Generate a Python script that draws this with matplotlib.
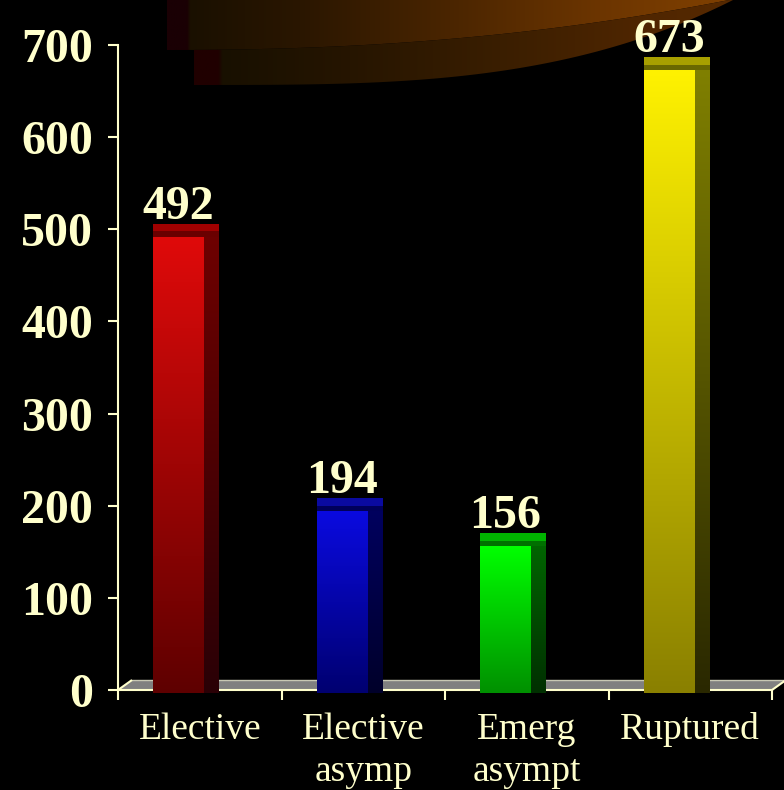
import numpy as np
import matplotlib
matplotlib.use("Agg")
import matplotlib.pyplot as plt
from matplotlib.patches import Polygon, Rectangle
from matplotlib.colors import to_rgb

# ---- data -------------------------------------------------------------
categories = ["Elective", "Elective\nasymp", "Emerg\nasympt", "Ruptured"]
values = [492, 194, 156, 673]
yticks = [0, 100, 200, 300, 400, 500, 600, 700]

# ---- bar colours (front face gradient, side face gradient, top cap) ----
front_top = ["#e00a0a", "#0a0ae0", "#00ff00", "#fff200"]
front_bottom = ["#5e0000", "#000070", "#009000", "#8a8000"]
side_top = ["#6e0000", "#00005e", "#006400", "#808000"]
side_bottom = ["#2a0006", "#00002a", "#003000", "#2a2800"]
cap_light = ["#a00000", "#0a0aa0", "#00b400", "#a8a000"]
cap_dark = ["#6a0000", "#00005a", "#007000", "#6a6800"]

CREAM = "#ffffcc"
SERIF = ["Liberation Serif", "DejaVu Serif"]

W, H = 784, 790
fig = plt.figure(figsize=(W / 100, H / 100), dpi=100, facecolor="black")

# ---- decorative swoosh in the slide background -------------------------
bg = fig.add_axes([0, 0, 1, 1], zorder=0)
bg.set_facecolor("black")
bg.axis("off")


def gradient_band(ax, verts, stops, colors):
    poly = Polygon(verts, closed=True, facecolor="none", edgecolor="none")
    ax.add_patch(poly)
    xmin, xmax = verts[:, 0].min(), verts[:, 0].max()
    ymin, ymax = verts[:, 1].min(), verts[:, 1].max()
    xs = np.linspace(xmin, xmax, 800)
    rgb = np.array([to_rgb(c) for c in colors])
    row = np.stack([np.interp(xs, stops, rgb[:, k]) for k in range(3)], axis=-1)
    im = ax.imshow(row[None, :, :], extent=(xmin, xmax, ymax, ymin),
                   aspect="auto", interpolation="bilinear")
    im.set_clip_path(poly)


# upper band
xa = np.linspace(167, 729, 120)
ta = (xa - 167) / (729 - 167)
lower_edge_a = 50 * (1 - ta ** 2.2)
upper_band = np.vstack([[[167, -2], [740, -2], [740, 0]],
                        np.column_stack([xa[::-1], lower_edge_a[::-1]])])
gradient_band(bg, upper_band,
              [167, 187, 190, 300, 450, 600, 700, 740],
              ["#1a0004", "#1a0004", "#1a1000", "#2a1600", "#4a2500",
               "#6c3500", "#7c3e00", "#7c3e00"])

# lower band
xb = np.linspace(194, 733, 120)
tb = (xb - 194) / (733 - 194)
lower_edge_b = 85 * (1 - tb ** 3.2)
xb_top = np.linspace(733, 194, 120)
ta_b = np.clip((xb_top - 167) / (729 - 167), 0, 1)
upper_edge_b = 50 * (1 - ta_b ** 2.2)
lower_band = np.vstack([np.column_stack([xb, lower_edge_b]),
                        np.column_stack([xb_top, upper_edge_b])])
gradient_band(bg, lower_band,
              [194, 218, 222, 350, 500, 650, 733],
              ["#200000", "#200000", "#181000", "#261500", "#3a1e00",
               "#502600", "#562900"])

bg.set_xlim(0, W)
bg.set_ylim(H, 0)

# ---- main chart axes ---------------------------------------------------
left_px, right_px, top_px, base_px = 118, 772, 45, 690
ax = fig.add_axes([left_px / W, (H - base_px) / H,
                   (right_px - left_px) / W, (base_px - top_px) / H], zorder=1)
ax.set_facecolor("none")

n = len(categories)
ymax = yticks[-1]
px_x = (right_px - left_px) / n          # pixels per category
px_y = (base_px - top_px) / ymax         # pixels per unit value

depth_x = 14 / px_x                      # 3D depth offsets in data units
depth_y = 10 / px_y
cap_h = 13 / px_y
face_off = 35 / px_x
face_w = 51 / px_x
side_w = 15 / px_x
sink = 3 / px_y                          # bars dip slightly below the floor edge

# floor
floor = Polygon([(0, 0), (n, 0), (n + depth_x, depth_y), (depth_x, depth_y)],
                closed=True, facecolor="#808080", edgecolor="none",
                zorder=1, clip_on=False)
ax.add_patch(floor)
ax.plot([depth_x, n + depth_x], [depth_y, depth_y], color="#c8c8b4", lw=1.0,
        zorder=1.5, clip_on=False)
for xe in (0, n):
    ax.plot([xe, xe + depth_x], [0, depth_y], color=CREAM, lw=1.5,
            zorder=1.5, clip_on=False, solid_capstyle="butt")


def vgrad(ax, x0, x1, y0, y1, ctop, cbot, z):
    rgb = np.array([to_rgb(cbot), to_rgb(ctop)])
    t = np.linspace(0, 1, 256)[:, None]
    col = rgb[0] + (rgb[1] - rgb[0]) * t
    ax.imshow(col[::-1, None, :], extent=(x0, x1, y0, y1), aspect="auto",
              interpolation="bilinear", zorder=z, clip_on=False)


for i, v in enumerate(values):
    x0 = i + face_off
    x1 = x0 + face_w
    vgrad(ax, x0, x1, -sink, v, front_top[i], front_bottom[i], 3)
    vgrad(ax, x1, x1 + side_w, -sink, v, side_top[i], side_bottom[i], 3)
    ax.add_patch(Rectangle((x0, v), face_w + side_w, cap_h * 0.4,
                           facecolor=cap_dark[i], edgecolor="none",
                           zorder=4, clip_on=False))
    ax.add_patch(Rectangle((x0, v + cap_h * 0.4), face_w + side_w, cap_h * 0.6,
                           facecolor=cap_light[i], edgecolor="none",
                           zorder=4, clip_on=False))
    ax.text((x0 + x1) / 2, v + cap_h + 5 / px_y, f"{v}", ha="center",
            va="baseline", color=CREAM, fontsize=34.5, fontweight="bold",
            family=SERIF, zorder=5, clip_on=False)

ax.set_xlim(0, n)
ax.set_ylim(0, ymax)

# spines
for s in ("top", "right"):
    ax.spines[s].set_visible(False)
for s in ("left", "bottom"):
    ax.spines[s].set_color(CREAM)
    ax.spines[s].set_linewidth(1.5)
    ax.spines[s].set_zorder(2)

# y axis
ax.set_yticks(yticks)
ax.set_yticklabels([str(t) for t in yticks])
ax.tick_params(axis="y", direction="out", length=7, width=1.5, colors=CREAM,
               labelsize=34.5, pad=11)
for lab in ax.get_yticklabels():
    lab.set_fontfamily(SERIF)
    lab.set_fontweight("bold")

# x axis: boundary ticks and centred category labels
ax.set_xticks(np.arange(n + 1))
ax.set_xticklabels([])
ax.tick_params(axis="x", which="major", direction="out", length=7, width=1.5,
               colors=CREAM)
ax.set_xticks(np.arange(n) + 0.5, minor=True)
ax.set_xticklabels(categories, minor=True)
ax.tick_params(axis="x", which="minor", length=0, pad=16, labelsize=27,
               labelcolor=CREAM)
for lab in ax.get_xticklabels(minor=True):
    lab.set_fontfamily(SERIF)
    lab.set_linespacing(1.3)

fig.savefig("out.png", dpi=100, facecolor="black")
